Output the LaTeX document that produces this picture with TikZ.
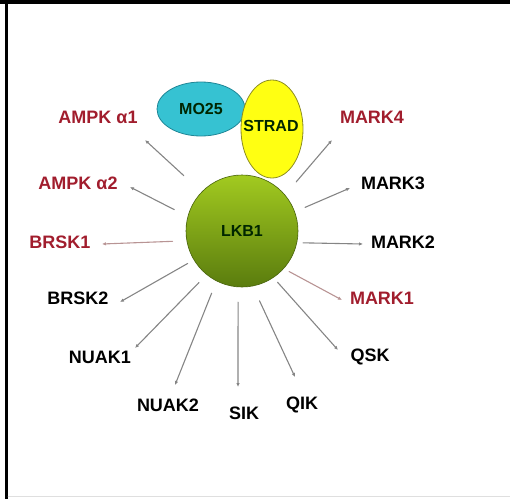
\documentclass[tikz,border=0pt]{standalone}
\usepackage{fontspec}
\setmainfont{Liberation Sans}
\usetikzlibrary{shapes.geometric,arrows.meta}

\definecolor{redtxt}{HTML}{A11D2D}
\definecolor{linkgray}{HTML}{858585}
\definecolor{linkred}{HTML}{B89494}
\definecolor{mocyan}{HTML}{36C2D2}
\definecolor{moedge}{HTML}{1F8696}
\definecolor{stradyel}{HTML}{FFFF12}
\definecolor{stradedge}{HTML}{8C8C22}
\definecolor{lkbtop}{HTML}{A2CA20}
\definecolor{lkbbot}{HTML}{5A7C0E}

\tikzset{
  kin/.style={font=\fontsize{18}{20}\selectfont\bfseries, text=black, inner sep=0pt},
  kinr/.style={kin, text=redtxt},
  cplx/.style={font=\fontsize{16}{18}\selectfont\bfseries, text=black!85!green, inner sep=0pt},
  link/.style={line width=1.1pt, -{Latex[length=4pt,width=3.5pt]}},
}

\begin{document}
\begin{tikzpicture}[x=1pt, y=-1pt, line join=round, line cap=round]
  \useasboundingbox (0,0) rectangle (510,499);
  % frame
  \fill[black] (0,0) rectangle (510,4);
  \fill[black] (5,0) rectangle (8,499);
  \draw[gray!25] (8,496) -- (510,496);

  % LKB1 complex
  \node[ellipse, draw=moedge, line width=0.8pt, fill=mocyan, minimum width=88pt, minimum height=54pt, inner sep=0pt] (mo25) at (201,109) {};
  \node[cplx] (mo25txt) at (mo25) {MO25};
  \node[ellipse, draw=stradedge, line width=0.8pt, fill=stradyel, minimum width=62pt, minimum height=98pt, inner sep=0pt] (strad) at (272,129) {};
  \node[cplx] (stradtxt) at (271,126) {STRAD};
  \node[circle, draw=lkbbot!80!black, line width=0.6pt, top color=lkbtop, bottom color=lkbbot, minimum size=112pt, inner sep=0pt, cplx] (lkb) at (242,231) {LKB1};

  % substrates
  \node[kinr] (a1) at (98,117) {AMPK α1};
  \node[kinr] (a2) at (78,183) {AMPK α2};
  \node[kinr] (brsk1) at (60,242) {BRSK1};
  \node[kin] (brsk2) at (78,298) {BRSK2};
  \node[kin] (nuak1) at (100,357) {NUAK1};
  \node[kin] (nuak2) at (168,405) {NUAK2};
  \node[kin] (sik) at (244,413) {SIK};
  \node[kin] (qik) at (302,405) {QIK};
  \node[kin] (qsk) at (370,357) {QSK};
  \node[kinr] (mark1) at (382,298) {MARK1};
  \node[kin] (mark2) at (403,242) {MARK2};
  \node[kin] (mark3) at (393,183) {MARK3};
  \node[kinr] (mark4) at (372,117) {MARK4};

  % arrow tips
  \coordinate (ta1) at (145,140);
  \coordinate (ta2) at (130,187);
  \coordinate (tbrsk1) at (102,244);
  \coordinate (tbrsk2) at (120,302);
  \coordinate (tnuak1) at (135,348);
  \coordinate (tnuak2) at (175,385);
  \coordinate (tsik) at (238,387);
  \coordinate (tqik) at (295,377);
  \coordinate (tqsk) at (338,350);
  \coordinate (tmark1) at (342,300);
  \coordinate (tmark2) at (363,244);
  \coordinate (tmark3) at (350,188);
  \coordinate (tmark4) at (332,140);

  \foreach \t/\a/\g/\c in {a1/136.5/24/linkgray, a2/165.4/15/linkgray, brsk1/190.7/14/linkred,
      brsk2/211.4/7/linkgray, nuak1/231/11/linkgray, nuak2/243.4/13/linkgray, sik/266.8/15/linkgray,
      qik/-79.6/16/linkgray, qsk/-56.8/6/linkgray, mark1/-42.4/6/linkred, mark2/-12/6/linkgray,
      mark3/20/11/linkgray, mark4/40/17/linkgray}
    \draw[link, draw=\c, shorten <=\g pt] (lkb.\a) -- (t\t);
\end{tikzpicture}
\end{document}
